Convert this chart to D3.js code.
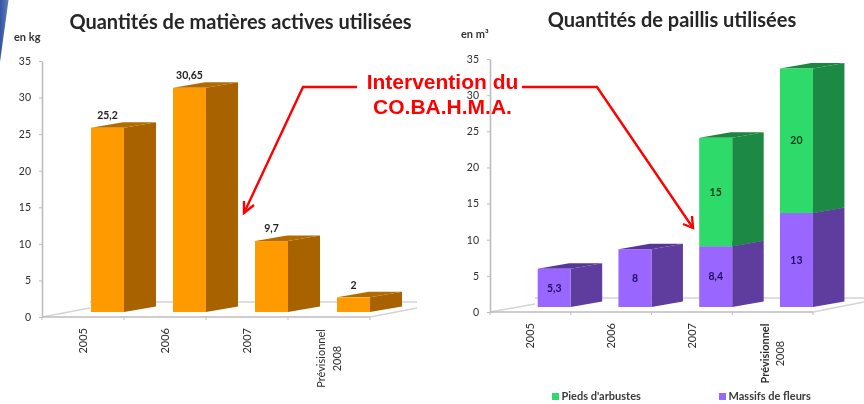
<!DOCTYPE html>
<html><head><meta charset="utf-8">
<script src="https://cdnjs.cloudflare.com/ajax/libs/d3/7.8.5/d3.min.js"></script>
<style>html,body{margin:0;padding:0;background:#fff;overflow:hidden}svg{display:block}text{font-family:Lato,"Open Sans",sans-serif}</style>
</head><body><svg id="c" width="864" height="404"></svg>
<script>
const categories = ["2005","2006","2007","Prévisionnel\n2008"];
const matieres = [25.2,30.65,9.7,2];
const massifs = [5.3,8,8.4,13];
const pieds = [0,0,15,20];
const yTicks = [0,5,10,15,20,25,30,35];
const seriesNames = ["Pieds d'arbustes","Massifs de fleurs"];
const annotationLines = ["Intervention du","CO.BA.H.M.A."];

const fmt = v => String(v).replace(".",",");
const svg = d3.select("#c");
const defs = svg.append("defs");
defs.append("filter").attr("id","soft").attr("x","-5%").attr("y","-5%").attr("width","110%").attr("height","110%")
  .append("feGaussianBlur").attr("stdDeviation",0.45);
const g0 = defs.append("linearGradient").attr("id","corner").attr("x1",0).attr("x2",1);
g0.append("stop").attr("offset",0).attr("stop-color","#34549f");
g0.append("stop").attr("offset",1).attr("stop-color","#5f7dbd");
svg.append("path").attr("d","M0,0L8.5,0L0,62Z").attr("fill","url(#corner)");

const root = svg.append("g").attr("filter","url(#soft)");
const AX="#bdbdbd", INK="#2e2e2e";

function chart(c){
  const g = root.append("g");
  const y = d3.scaleLinear().domain([0,35]).range([c.y0,c.y35]);
  const x = d3.scaleBand().domain(categories).range([c.x0,c.x1]);
  const step = x.step();
  g.append("path").attr("fill","none").attr("stroke","#d4d4d4").attr("stroke-width",1.4)
   .attr("d",`M${c.x0},${c.y0}L${c.x0+c.floorDx},${c.y0-c.floorBack+6}M${c.x0+c.floorDx},${c.y0-c.floorBack}L${c.xBack},${c.y0-c.floorBack}M${c.x1},${c.y0}L${c.xBack},${c.y0-c.floorDiag}`);
  const ay = g.append("g").attr("transform",`translate(${c.x0},0)`)
    .call(d3.axisLeft(y).tickValues(yTicks).tickSize(3).tickPadding(8).tickSizeOuter(0));
  ay.select(".domain").attr("stroke",AX).attr("stroke-width",1.6);
  ay.selectAll(".tick line").attr("stroke",AX);
  ay.selectAll("text").attr("font-size",10.5).attr("fill",INK).style("font-family","Lato");
  g.append("line").attr("x1",c.x0).attr("x2",c.x1).attr("y1",y(0)).attr("y2",y(0)).attr("stroke",AX).attr("stroke-width",1.6);
  g.selectAll(".xt").data([c.x0,...categories.map(d=>x(d)+step)]).join("line")
    .attr("x1",d=>d).attr("x2",d=>d).attr("y1",y(0)).attr("y2",y(0)+3).attr("stroke",AX);
  categories.forEach(cat=>{
    const lines = cat.split("\n");
    const cx = x(cat)+c.labelOff;
    if(lines.length===1){
      g.append("text").attr("transform",`translate(${cx},${y(0)+c.labelTop}) rotate(-90)`)
       .attr("text-anchor","end").attr("dy","0.35em").attr("font-size",11).attr("fill",INK).text(lines[0]);
    } else {
      lines.forEach((l,i)=>{
        g.append("text").attr("transform",`translate(${cx+(i-0.5)*15.5},${y(0)+c.labelTop+30.5}) rotate(-90)`)
         .attr("text-anchor","middle").attr("dy","0.35em").attr("font-size",11)
         .attr("font-weight",(c.boldFirst&&i===0)?700:400).attr("fill",INK).text(l);
      });
    }
  });
  const dx=c.depthX, dy=c.depthY, lift=5;
  const barW=33;
  const Y=v=>y(v)-lift;
  categories.forEach((cat,i)=>{
    let base=0;
    const bx=x(cat)+c.barOff;
    c.series.forEach(s=>{
      const v=s.values[i];
      if(!v) return;
      const y0=Y(base), y1=Y(base+v);
      const seg=g.append("g");
      seg.append("path").attr("fill",s.side).attr("d",`M${bx+barW},${y0}L${bx+barW+dx},${y0-dy}L${bx+barW+dx},${y1-dy}L${bx+barW},${y1}Z`);
      seg.append("path").attr("fill",s.top).attr("d",`M${bx},${y1}L${bx+barW},${y1}L${bx+barW+dx},${y1-dy}L${bx+dx},${y1-dy}Z`);
      seg.append("rect").attr("x",bx).attr("y",y1).attr("width",barW).attr("height",y0-y1).attr("fill",s.front);
      base+=v;
    });
    let b=0;
    c.series.forEach(s=>{
      const v=s.values[i];
      if(!v) return;
      const ly = c.outside ? Y(b+v)-12.5 : (Y(b)+Y(b+v))/2;
      g.append("text").attr("x",bx+barW/2).attr("y",ly).attr("dy","0.35em").attr("text-anchor","middle")
       .attr("font-size",10.5).attr("font-weight",700).attr("fill",c.outside?"#222":s.labelInk).text(fmt(v));
      b+=v;
    });
  });
  g.append("text").attr("x",c.titleX).attr("y",c.titleY).attr("text-anchor","middle").attr("font-size",c.titleSize)
    .attr("font-weight",700).attr("fill","#262626").text(c.title);
  g.append("text").attr("x",c.unitX).attr("y",c.unitY).attr("font-size",11).attr("font-weight",700).attr("fill","#333").text(c.unit);
}

chart({x0:42,x1:370,xBack:417,y0:317,y35:61,floorDx:48,floorBack:15,floorDiag:9,depthX:32,depthY:5.5,
  labelOff:41,labelTop:11,barOff:49,outside:true,boldFirst:false,
  title:"Quantités de matières actives utilisées",titleX:240.5,titleY:29,titleSize:20,unit:"en kg",unitX:14,unitY:41,
  series:[{values:matieres,front:"#ff9a00",side:"#a86400",top:"#b06c00",labelInk:"#222"}]});
chart({x0:490,x1:813,xBack:864,y0:312,y35:59,floorDx:45,floorBack:14,floorDiag:10,depthX:31.5,depthY:5.5,
  labelOff:40.5,labelTop:11,barOff:47.7,outside:false,boldFirst:true,
  title:"Quantités de paillis utilisées",titleX:672,titleY:27,titleSize:20,unit:"en m³",unitX:461,unitY:38,
  series:[{values:massifs,front:"#9966ff",side:"#5f3d9e",top:"#563894",labelInk:"#1f1060"},
          {values:pieds,front:"#2fda69",side:"#1f8a45",top:"#1c8540",labelInk:"#0c3a1c"}]});

const lg=root.append("g");
[{x:552,n:seriesNames[0],c:"#2fda69"},{x:719,n:seriesNames[1],c:"#9966ff"}].forEach(d=>{
  lg.append("rect").attr("x",d.x).attr("y",393).attr("width",7).attr("height",7).attr("fill",d.c);
  lg.append("text").attr("x",d.x+9.5).attr("y",400).attr("font-size",11).attr("font-weight",700).attr("fill","#3a3a3a").text(d.n);
});

const red="#ff0000";
const an=svg.append("g");
const line=d3.line();
an.append("path").attr("fill","none").attr("stroke",red).attr("stroke-width",2.4).attr("stroke-linejoin","miter")
  .attr("d",line([[357,87],[303,87],[244,213]]));
an.append("path").attr("fill","none").attr("stroke",red).attr("stroke-width",2.4)
  .attr("d",line([[522,87],[597,87],[693,228]]));
an.append("path").attr("fill","none").attr("stroke",red).attr("stroke-width",2.4)
  .attr("d",line([[244,201],[244,213],[254,205]]));
an.append("path").attr("fill","none").attr("stroke",red).attr("stroke-width",2.4)
  .attr("d",line([[683,224],[693,228],[692,216]]));
annotationLines.forEach((t,i)=>{
  an.append("text").attr("x",442.5).attr("y",89+i*25).attr("text-anchor","middle")
    .style("font-family","'Liberation Sans',Arial,sans-serif").attr("font-size",21).attr("font-weight",700).attr("fill",red).text(t);
});
</script></body></html>
